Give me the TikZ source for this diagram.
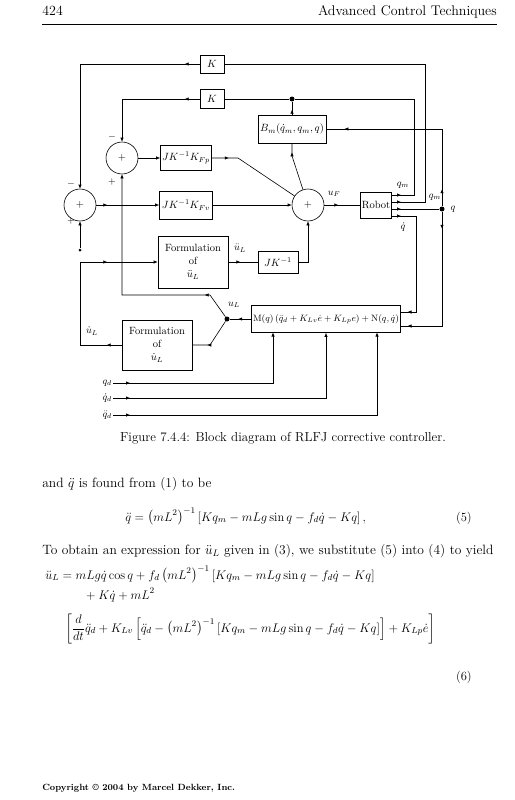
\RequirePackage{fix-cm}
\documentclass[tikz,border=0pt]{standalone}
\usepackage{amsmath}
\usepackage{amssymb}
\usepackage{tikz}
\usetikzlibrary{arrows.meta,decorations.markings}

\tikzset{
  blk/.style={draw, line width=0.6pt, inner sep=1pt, font=\fontsize{10.5}{13}\selectfont},
  sumc/.style={draw, circle, line width=0.6pt, minimum size=32pt, inner sep=0pt, font=\fontsize{10.5}{12}\selectfont},
  jdot/.style={circle, fill, inner sep=0pt, minimum size=5pt},
  lbl/.style={inner sep=1pt, font=\fontsize{10}{12}\selectfont},
  ar/.style={postaction={decorate, decoration={markings,
      mark=at position #1 with {\arrow{Latex[length=4pt,width=3.4pt]}}}}},
  ea/.style={-{Latex[length=4pt,width=3.4pt]}},
  txt/.style={anchor=base west, inner sep=0pt, font=\fontsize{13.5}{16}\selectfont},
  eqn/.style={anchor=base west, inner sep=0pt, font=\fontsize{12.5}{15}\selectfont},
}

\begin{document}
\begin{tikzpicture}[x=1pt, y={(0pt,-1pt)}, line width=0.6pt]
\useasboundingbox (0,0) rectangle (514,800);

\node[txt, font=\fontsize{14}{16}\selectfont] (pnum) at (42,16) {424};
\node[txt, anchor=base east, font=\fontsize{14}{16}\selectfont] (htitle) at (497,16) {Advanced Control Techniques};
\draw (42,24) -- (497,24);

% blocks
\node[blk, minimum width=24pt, minimum height=18pt] (k1) at (212,64) {$K$};
\node[blk, minimum width=24pt, minimum height=19pt] (k2) at (212,99) {$K$};
\node[blk, minimum width=68pt, minimum height=28pt] (bm) at (292,129) {$B_m(\dot q_m, q_m, q)$};
\node[sumc] (s2) at (122,158) {$+$};
\node[blk, minimum width=51pt, minimum height=25pt] (kfp) at (186,158) {$JK^{-1}K_{Fp}$};
\node[sumc] (s1) at (80,205) {$+$};
\node[blk, minimum width=53pt, minimum height=28pt] (kfv) at (186,205) {$JK^{-1}K_{Fv}$};
\node[sumc] (s3) at (308,205) {$+$};
\node[blk, minimum width=30pt, minimum height=26pt] (rob) at (376,205) {Robot};
\node[blk, align=center, minimum width=70pt, minimum height=52pt] (f1) at (193,262) {Formulation\\of\\$\ddot u_L$};
\node[blk, minimum width=40pt, minimum height=22pt] (jk) at (278,262) {$JK^{-1}$};
\node[blk, align=center, minimum width=70pt, minimum height=50pt] (f2) at (157,345) {Formulation\\of\\$\dot u_L$};
\node[blk, minimum width=149pt, minimum height=27pt, inner sep=0.5pt, font=\fontsize{9.2}{11}\selectfont] (mb) at (326,319) {$\mathrm{M}(q)\,(\ddot q_d + K_{Lv}\dot e + K_{Lp}e) + \mathrm{N}(q,\dot q)$};

\node[jdot] (jb) at (292,99) {};
\node[jdot] (jq) at (442,209) {};
\node[jdot] (jl) at (227,319) {};
\node[jdot, minimum size=3pt] (qin) at (80,250) {};

\coordinate (o1) at (391,195);
\coordinate (o2) at (391,202);
\coordinate (o3) at (391,209);
\coordinate (o4) at (391,216);
\coordinate (c1) at (414,99);
\coordinate (c2) at (425,64);
\coordinate (c5) at (416,216);
\coordinate (m1) at (400.5,312);
\coordinate (m2) at (400.5,326);
\coordinate (c6) at (292,156);
\coordinate (c7) at (238,158);
\coordinate (c8) at (210,295);
\coordinate (c9) at (122,295);
\coordinate (c10) at (210,345);
\coordinate (c11) at (80,345);
\coordinate (c12) at (80,262);
\coordinate (e1) at (273,332.5);
\coordinate (e3) at (377,332.5);

% labels
\node[lbl] (lqm1) at (403,185) {$q_m$};
\node[lbl] (lqm2) at (435,197) {$q_m$};
\node[lbl] (lq) at (453,209) {$q$};
\node[lbl] (lqdot) at (403,227) {$\dot q$};
\node[lbl] (luf) at (334,194) {$u_F$};
\node[lbl] (lul) at (234,305) {$u_L$};
\node[lbl] (ludd) at (240,248) {$\ddot u_L$};
\node[lbl] (lud) at (92,331) {$\dot u_L$};
\node[lbl] at (71,184) {$-$};
\node[lbl] at (71,221) {$+$};
\node[lbl] at (112,137) {$-$};
\node[lbl] at (112,182) {$+$};
\node[lbl, anchor=east] (lqd) at (113,383) {$q_d$};
\node[lbl, anchor=east] (lqdd) at (113,398) {$\dot q_d$};
\node[lbl, anchor=east] (lqddd) at (113,415) {$\ddot q_d$};

% connections
\draw[ar=10pt] (o2) -| (c2) -- (k1.east);
\draw[ar=15pt, ea] (k1.west) -| (s1.north);
\draw[ar=10pt] (o1) -| (c1) -- (jb) -- (k2.east);
\draw[ar=15pt, ea] (k2.west) -| (s2.north);
\draw[ar=5pt] (bm.north) -- (jb);
\draw[ar=10pt] (o3) -- (jq);
\draw[ar=17pt, ar=-18pt] (jq) |- (bm.east);
\draw[ar=17pt, ar=-7pt] (jq) |- (m2);
\draw[ar=10pt, ar=-7pt] (o4) -- (c5) |- (m1);

\draw[ar=11pt, ea] (s1.east) -- (kfv.west);
\draw[ea] (s2.east) -- (kfp.west);
\draw[ar=17pt] (kfp.east) -- (c7) -- (s3);
\draw[ea] (kfv.east) -- (s3.west);
\draw[ea] (jk.east) -| (s3.south);
\draw[ar=-9pt] (s3) -- (c6) -- (bm.south);
\draw[ar=14pt] (s3.east) -- (rob.west);
\draw[ea] (qin) -- (s1.south);

\draw[ar=13pt] (mb.west) -- (jl);
\draw[ar=32pt, ea] (jl) -- (c8) -- (c9) -- (s2.south);
\draw[ar=31pt] (jl) -- (c10) -- (f2.east);
\draw[ar=15pt, ar=152pt, ea] (f2.west) -- (c11) -- (c12) -- (f1.west);
\draw[ar=12pt] (f1.east) -- (jk.west);

\draw[ar=17pt, ea] (lqd.east) -| (e1);
\draw[ar=17pt, ea] (lqdd.east) -| (mb.south);
\draw[ar=17pt, ea] (lqddd.east) -| (e3);

\node[font=\fontsize{13}{15}\selectfont] (cap) at (283,438) {Figure 7.4.4: Block diagram of RLFJ corrective controller.};

\node[txt] (t1) at (42,487) {and $\ddot q$ is found from (1) to be};
\node[eqn] (eq5) at (125,521) {$\displaystyle \ddot q = \left(mL^2\right)^{-1}\left[Kq_m - mLg\sin q - f_d\dot q - Kq\right],$};
\node[eqn, anchor=base east] (n5) at (472,521) {(5)};
\node[txt] (t2) at (42,554) {To obtain an expression for $\ddot u_L$ given in (3), we substitute (5) into (4) to yield};
\node[eqn] (eq6a) at (45,579) {$\displaystyle \ddot u_L = mLg\dot q\cos q + f_d\left(mL^2\right)^{-1}\left[Kq_m - mLg\sin q - f_d\dot q - Kq\right]$};
\node[eqn] (eq6b) at (83,599) {$\displaystyle {}+K\dot q + mL^2$};
\node[eqn] (eq6c) at (65,632) {$\displaystyle \left[\frac{d}{dt}\ddot q_d + K_{Lv}\left[\ddot q_d - \left(mL^2\right)^{-1}\left[Kq_m - mLg\sin q - f_d\dot q - Kq\right]\right] + K_{Lp}\dot e\right]$};
\node[eqn, anchor=base east] (n6) at (472,680) {(6)};

\node[anchor=base west, inner sep=0pt, font=\fontsize{9}{10}\selectfont\bfseries] (copy) at (42,790) {Copyright \textcopyright\ 2004 by Marcel Dekker, Inc.};
\end{tikzpicture}
\end{document}
